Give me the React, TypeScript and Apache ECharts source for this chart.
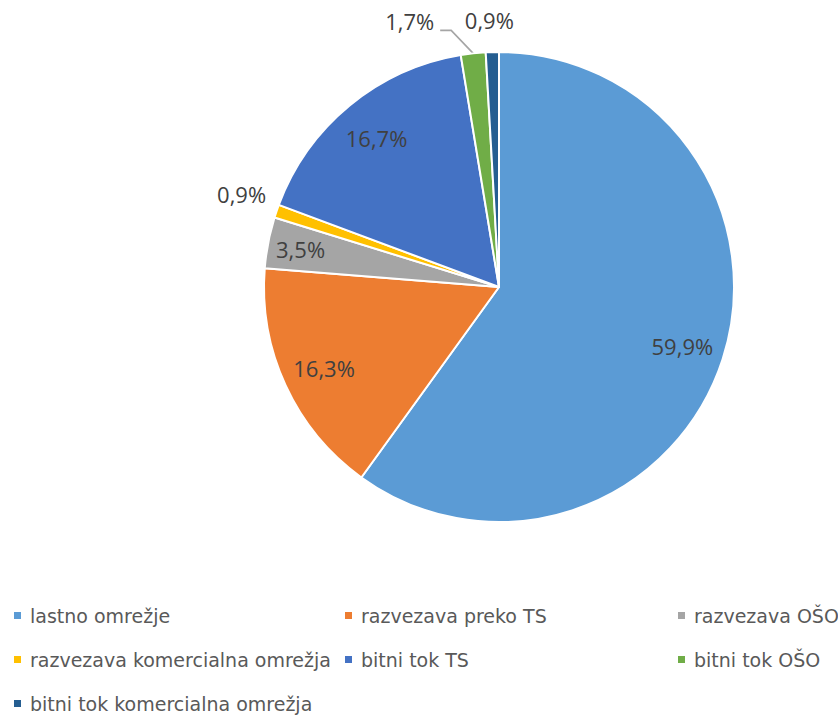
import React, { useEffect, useRef } from "react";
import * as echarts from "echarts";

// ---- data ----
const categories = [
  "lastno omrežje",
  "razvezava preko TS",
  "razvezava OŠO",
  "razvezava komercialna omrežja",
  "bitni tok TS",
  "bitni tok OŠO",
  "bitni tok komercialna omrežja",
];
const shares = [59.9, 16.3, 3.5, 0.9, 16.7, 1.7, 0.9];
const colors = ["#5B9BD5", "#ED7D31", "#A5A5A5", "#FFC000", "#4472C4", "#70AD47", "#255E91"];
// legend columns (indices into categories)
const legendColumns = [
  [0, 3, 6],
  [1, 4],
  [2, 5],
];

// ---- layout ----
const CX = 499;
const CY = 287;
const R = 235;
const legendLefts = [12, 343, 676];
const legendTop = 606;

const fmt = (v: number) => v.toFixed(1).replace(".", ",") + "%";

export default function App() {
  const ref = useRef<HTMLDivElement>(null);

  useEffect(() => {
    if (!ref.current) return;
    const chart = echarts.init(ref.current, undefined, { renderer: "svg" });
    const total = shares.reduce((a, b) => a + b, 0);

    const geom = (i: number) => {
      const before = shares.slice(0, i).reduce((a, b) => a + b, 0);
      const mid = ((before + shares[i] / 2) / total) * Math.PI * 2;
      const dx = Math.sin(mid);
      const dy = -Math.cos(mid);
      return { dx, dy, ex: CX + R * dx, ey: CY + R * dy };
    };

    const insideRatio: Record<number, number> = { 0: 0.82, 1: 0.82, 2: 0.86, 4: 0.82 };

    const data = categories.map((name, i) => ({
      name,
      value: shares[i],
      itemStyle: { color: colors[i] },
      labelLine: { show: i === 5 },
    }));

    const option: any = {
      animation: false,
      backgroundColor: "#ffffff",
      color: colors,
      legend: legendColumns.map((col, c) => ({
        show: true,
        orient: "vertical",
        left: legendLefts[c],
        top: legendTop,
        padding: 0,
        itemGap: 25,
        itemWidth: 9,
        itemHeight: 9,
        icon: "rect",
        selectedMode: false,
        data: col.map((i) => categories[i]),
        textStyle: {
          fontFamily: "DejaVu Sans",
          fontSize: 19,
          color: "#595959",
          padding: [0, 0, 0, 3],
        },
      })),
      series: [
        {
          type: "pie",
          center: [CX, CY],
          radius: R,
          startAngle: 90,
          clockwise: true,
          avoidLabelOverlap: false,
          emphasis: { disabled: true },
          itemStyle: { borderColor: "#ffffff", borderWidth: 2 },
          label: {
            show: true,
            position: "outside",
            formatter: (p: any) => fmt(p.value),
            fontFamily: "Open Sans",
            fontSize: 22,
            color: "#404040",
          },
          labelLine: {
            show: false,
            lineStyle: { color: "#A5A5A5", width: 1.6 },
          },
          labelLayout: (params: any) => {
            const i = params.dataIndex;
            const g = geom(i);
            if (insideRatio[i] != null) {
              const k = insideRatio[i];
              return {
                x: CX + R * k * g.dx,
                y: CY + R * k * g.dy,
                align: "center",
                verticalAlign: "middle",
              };
            }
            if (i === 3) {
              return { x: g.ex - 35, y: g.ey - 17, align: "center", verticalAlign: "middle" };
            }
            if (i === 5) {
              return {
                x: g.ex - 39,
                y: g.ey - 32,
                align: "right",
                verticalAlign: "middle",
                labelLinePoints: [
                  [g.ex, g.ey],
                  [g.ex - 22, g.ey - 23],
                  [g.ex - 33, g.ey - 23],
                ],
              };
            }
            return { x: g.ex - 3, y: g.ey - 32, align: "center", verticalAlign: "middle" };
          },
          data,
        },
      ],
    };

    chart.setOption(option);
    return () => chart.dispose();
  }, []);

  return (
    <div
      ref={ref}
      style={{ position: "absolute", left: 0, top: 0, width: 838, height: 715 }}
    />
  );
}
